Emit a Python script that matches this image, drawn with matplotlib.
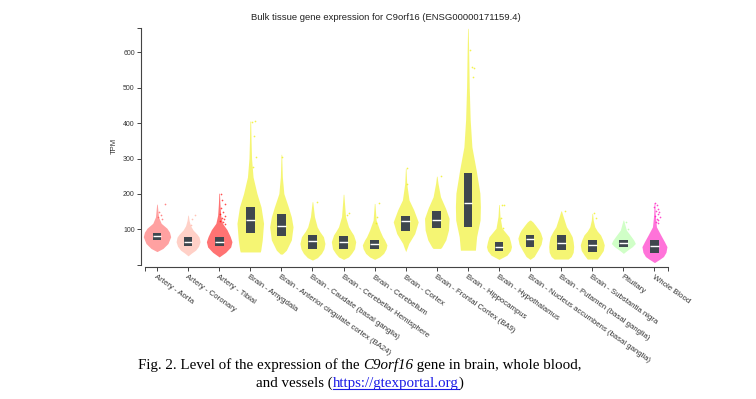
import numpy as np
import matplotlib
matplotlib.use("Agg")
import matplotlib.pyplot as plt
from matplotlib.lines import Line2D

tissues = ["Artery - Aorta", "Artery - Coronary", "Artery - Tibial", "Brain - Amygdala",
           "Brain - Anterior cingulate cortex (BA24)", "Brain - Caudate (basal ganglia)",
           "Brain - Cerebellar Hemisphere", "Brain - Cerebellum", "Brain - Cortex",
           "Brain - Frontal Cortex (BA9)", "Brain - Hippocampus", "Brain - Hypothalamus",
           "Brain - Nucleus accumbens (basal ganglia)", "Brain - Putamen (basal ganglia)",
           "Brain - Substantia nigra", "Pituitary", "Whole Blood"]

tissue_colors = ["#FF5555", "#FFAA99", "#FF0000"] + ["#EEEE00"] * 12 + ["#AAFF99", "#FF00BB"]

# box stats (TPM)
q1 = [70, 53, 53, 89, 82, 44, 45, 45, 96, 103, 107, 39, 51, 42, 35, 51, 34]
median = [80, 64, 64, 126, 110, 68, 64, 58, 123, 126, 173, 51, 72, 62, 55, 60, 52]
q3 = [91, 77, 79, 163, 142, 84, 81, 71, 138, 152, 258, 63, 84, 84, 71, 69, 69]

# violin outline: TPM levels and half width in pixels
shape_tpm = [
    [37, 46, 60, 79, 92, 103, 117, 135, 171],
    [25, 33, 41, 52, 65, 78, 86, 98, 110, 125, 140],
    [22, 35, 50, 65, 80, 99, 117, 140, 170, 202],
    [36, 41, 70, 117, 163, 201, 248, 300, 350, 406],
    [30, 41, 70, 107, 135, 163, 201, 248, 312],
    [13, 20, 32, 45, 60, 79, 95, 107, 136, 178],
    [15, 22, 32, 45, 65, 84, 95, 107, 136, 199],
    [15, 22, 32, 45, 56, 70, 79, 98, 126, 173],
    [37, 48, 60, 88, 121, 155, 183, 229, 272],
    [46, 50, 70, 98, 131, 159, 192, 230, 250],
    [41, 79, 126, 164, 202, 267, 333, 409, 504, 598, 668],
    [15, 27, 40, 51, 65, 79, 103, 136, 170],
    [15, 23, 42, 58, 75, 90, 98, 113, 121, 126],
    [16, 23, 35, 51, 65, 79, 95, 107, 136, 152],
    [16, 27, 40, 56, 70, 84, 95, 107, 125, 145],
    [32, 41, 51, 60, 69, 79, 98, 126],
    [6, 15, 23, 35, 51, 65, 84, 107, 140, 175],
]
shape_hw = [
    [0, 6, 11, 13.7, 12.5, 10, 4.2, 1.5, 0.3],
    [0, 3.5, 7.5, 10.5, 12, 11, 9, 5, 2.5, 1, 0.3],
    [0, 6.5, 11.5, 12.8, 11, 7.8, 3.3, 1.5, 0.8, 0.3],
    [10, 10.5, 12, 13.3, 10.8, 6.7, 2.8, 1.3, 0.8, 0.4],
    [1, 5, 10, 11.7, 10, 7, 2.5, 1, 0.3],
    [0, 5, 9, 11.5, 12.5, 11, 7, 4.7, 2, 0.3],
    [0, 5, 8, 11, 12.2, 10, 7.5, 5, 2, 0.3],
    [0, 5, 9, 11.5, 12.3, 10, 8, 5, 1.5, 0.3],
    [0, 1.5, 3, 9, 12.5, 8, 3.3, 1, 0.3],
    [3.7, 5, 9, 11.7, 12.3, 8.8, 3.7, 1.2, 0.3],
    [7.5, 8.7, 12.2, 12.5, 12, 8.3, 4, 2.3, 1.3, 0.8, 0.3],
    [0, 8, 11.5, 12.5, 11.5, 10, 3, 1, 0.3],
    [0, 4, 8, 11, 12.2, 10.5, 9, 5, 2.7, 0.5],
    [7, 10, 12, 12.5, 12, 11, 8, 5.3, 2, 0.3],
    [5, 8, 11, 12, 10.5, 8.3, 5, 2.5, 1, 0.3],
    [0, 4, 9, 12, 10.5, 8, 3, 0.3],
    [0, 5, 9, 11.5, 12.5, 10, 6.3, 2, 0.8, 0.3],
]

# outlier points (TPM) and their horizontal jitter
outlier_tpm = [
    [171, 148, 140, 134, 130],
    [140, 128, 112],
    [200, 182, 172, 160, 150, 142, 137, 133, 128, 124, 120, 116],
    [406, 403, 365, 305, 277],
    [305],
    [176],
    [147, 141],
    [173, 136, 117],
    [272, 229],
    [250],
    [606, 559, 555, 531],
    [170, 168, 131, 104],
    [],
    [152],
    [145, 131],
    [122, 101],
    [175, 168, 163, 158, 152, 148, 143, 139, 135, 130, 126, 122, 118],
]
outlier_dx = [
    [0.26, 0.06, 0.12, 0.04, 0.15],
    [0.22, 0.12, 0.08],
    [0.06, 0.1, 0.2, 0.05, 0.12, 0.02, 0.18, 0.08, 0.15, 0.04, 0.11, 0.2],
    [0.15, 0.05, 0.13, 0.2, 0.1],
    [0.02],
    [0.14],
    [0.17, 0.12],
    [0.14, 0.09, 0.06],
    [0.03, 0.04],
    [0.15],
    [0.06, 0.12, 0.19, 0.17],
    [0.09, 0.16, 0.05, 0.14],
    [],
    [0.13],
    [0.06, 0.12],
    [0.09, 0.15],
    [0.02, 0.08, 0.0, 0.12, 0.05, 0.15, 0.1, 0.03, 0.18, 0.08, 0.12, 0.05, 0.1],
]

W, H = 756, 399
fig = plt.figure(figsize=(W / 100, H / 100), dpi=100)
ax = fig.add_axes([141 / W, 1 - 264.7 / H, 529 / W, (264.7 - 28) / H])
ax.set_xlim(-0.514, 16.5)
ax.set_ylim(0, 669)
px = 529 / 17.014  # pixels per category

axcol = "#444444"
for i, t in enumerate(tissues):
    ys = np.array(shape_tpm[i])
    hw = np.array(shape_hw[i]) / px
    ax.fill_betweenx(ys, i - hw, i + hw, color=tissue_colors[i], alpha=0.55, lw=0, zorder=2)
    if outlier_tpm[i]:
        ax.scatter(i + np.array(outlier_dx[i]), outlier_tpm[i], s=1.5, color=tissue_colors[i],
                   alpha=0.7, lw=0, zorder=3)
    bw = 0.28
    ax.add_patch(plt.Rectangle((i - bw / 2, q1[i]), bw, q3[i] - q1[i], color="#3f474e", lw=0, zorder=4))
    ax.plot([i - bw / 2, i + bw / 2], [median[i], median[i]], color="white", lw=1.0, zorder=5,
            solid_capstyle="butt")

for s in ["top", "right"]:
    ax.spines[s].set_visible(False)
ax.spines["left"].set_color(axcol)
ax.spines["bottom"].set_color(axcol)
ax.spines["left"].set_linewidth(0.8)
ax.spines["bottom"].set_linewidth(0.8)
ax.spines["bottom"].set_position(("outward", 2))
ax.spines["bottom"].set_bounds(-0.386, 16.43)

ax.set_yticks([0, 100, 200, 300, 400, 500, 600, 669])
ax.set_yticklabels(["", "100", "200", "300", "400", "500", "600", ""])
ax.set_xticks(list(range(len(tissues))) + [-0.386, 16.43])
ax.set_xticklabels(tissues + ["", ""])
ax.tick_params(axis="y", length=3, width=0.7, color=axcol, labelsize=5, pad=1.5, labelcolor="#333333")
ax.tick_params(axis="x", length=3, width=0.7, color=axcol, labelsize=5.6, pad=1.5, labelcolor="#333333")
for lab in ax.get_xticklabels():
    lab.set_rotation(-35)
    lab.set_ha("left")
    lab.set_va("top")
    lab.set_rotation_mode("anchor")
    lab.set_family("Liberation Sans")
for lab in ax.get_yticklabels():
    lab.set_family("Liberation Sans")

ax.set_ylabel("TPM", fontsize=5.5, family="Liberation Sans", color="#333333")
ax.yaxis.set_label_coords(-23 / 529, 0.5)

fig.text(386 / W, 1 - 17 / H, "Bulk tissue gene expression for C9orf16 (ENSG00000171159.4)",
         ha="center", va="center", fontsize=6.8, family="Liberation Sans", color="#222222")

# caption
renderer = fig.canvas.get_renderer()
cap_size = 10.8


def rich_line(parts, cx, cy):
    texts = []
    for s, style, col in parts:
        t = fig.text(0, cy / H, s, fontsize=cap_size, family="Liberation Serif", style=style,
                     color=col, va="baseline", ha="left")
        texts.append(t)
    widths = [t.get_window_extent(renderer).width for t in texts]
    x = cx - sum(widths) / 2
    spans = []
    for t, w in zip(texts, widths):
        t.set_x(x / W)
        spans.append((x, x + w))
        x += w
    return spans


rich_line([("Fig. 2. Level of the expression of the ", "normal", "black"),
           ("C9orf16", "italic", "black"),
           (" gene in brain, whole blood,", "normal", "black")], 360, H - 369)
spans = rich_line([("and vessels (", "normal", "black"),
                   ("https://gtexportal.org", "normal", "#1a1ae6"),
                   (")", "normal", "black")], 360, H - 387)
x0, x1 = spans[1]
fig.add_artist(Line2D([x0 / W, x1 / W], [(H - 389) / H] * 2, transform=fig.transFigure,
                      color="#1a1ae6", lw=0.8))

fig.savefig("out.png", dpi=100)
